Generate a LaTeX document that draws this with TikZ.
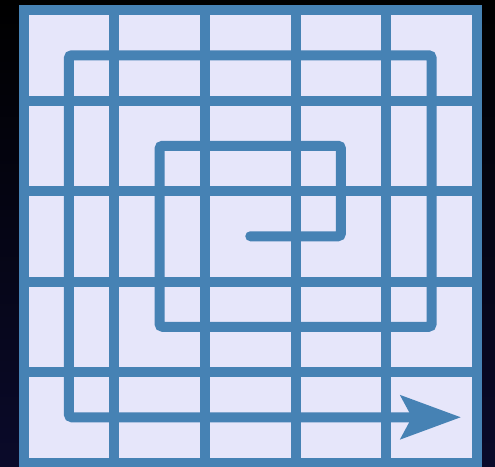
\documentclass[tikz,border=0pt]{standalone}
\usetikzlibrary{arrows.meta}
\definecolor{steel}{RGB}{70,130,180}
\definecolor{lav}{RGB}{230,230,250}
\definecolor{navy}{RGB}{10,10,42}
\tikzset{
  gridline/.style={draw=steel, line width=10pt},
  spiral/.style={draw=steel, line width=10pt, line cap=round, rounded corners=3pt,
    -{Stealth[length=60pt,width=43pt,inset=11pt]}}
}
\begin{document}
\begin{tikzpicture}[x=1pt,y=-1pt]
\useasboundingbox (0,0) rectangle (495,466);
\shade[top color=black, bottom color=navy] (0,0) rectangle (495,466);
\def\xa{23.5}\def\cw{90.7}\def\ya{10}\def\ch{90.5}
\fill[lav] (23.5,10) rectangle (477,462.5);
\foreach \i in {1,...,4}{
  \draw[gridline] ({\xa+\i*\cw},10) -- ({\xa+\i*\cw},462.5);
  \draw[gridline] (23.5,{\ya+\i*\ch}) -- (477,{\ya+\i*\ch});
}
\draw[gridline] (23.5,10) rectangle (477,462.5);
% spiral path
\coordinate (s0) at ({\xa+2.5*\cw},{\ya+2.5*\ch});
\coordinate (s1) at ({\xa+3.5*\cw},{\ya+2.5*\ch});
\coordinate (s2) at ({\xa+3.5*\cw},{\ya+1.5*\ch});
\coordinate (s3) at ({\xa+1.5*\cw},{\ya+1.5*\ch});
\coordinate (s4) at ({\xa+1.5*\cw},{\ya+3.5*\ch});
\coordinate (s5) at ({\xa+4.5*\cw},{\ya+3.5*\ch});
\coordinate (s6) at ({\xa+4.5*\cw},{\ya+0.5*\ch});
\coordinate (s7) at ({\xa+0.5*\cw},{\ya+0.5*\ch});
\coordinate (s8) at ({\xa+0.5*\cw},{\ya+4.5*\ch});
\coordinate (s9) at (461,{\ya+4.5*\ch});
\draw[spiral] (s0) -- (s1) -- (s2) -- (s3) -- (s4) -- (s5) -- (s6) -- (s7) -- (s8) -- (s9);
\end{tikzpicture}
\end{document}
